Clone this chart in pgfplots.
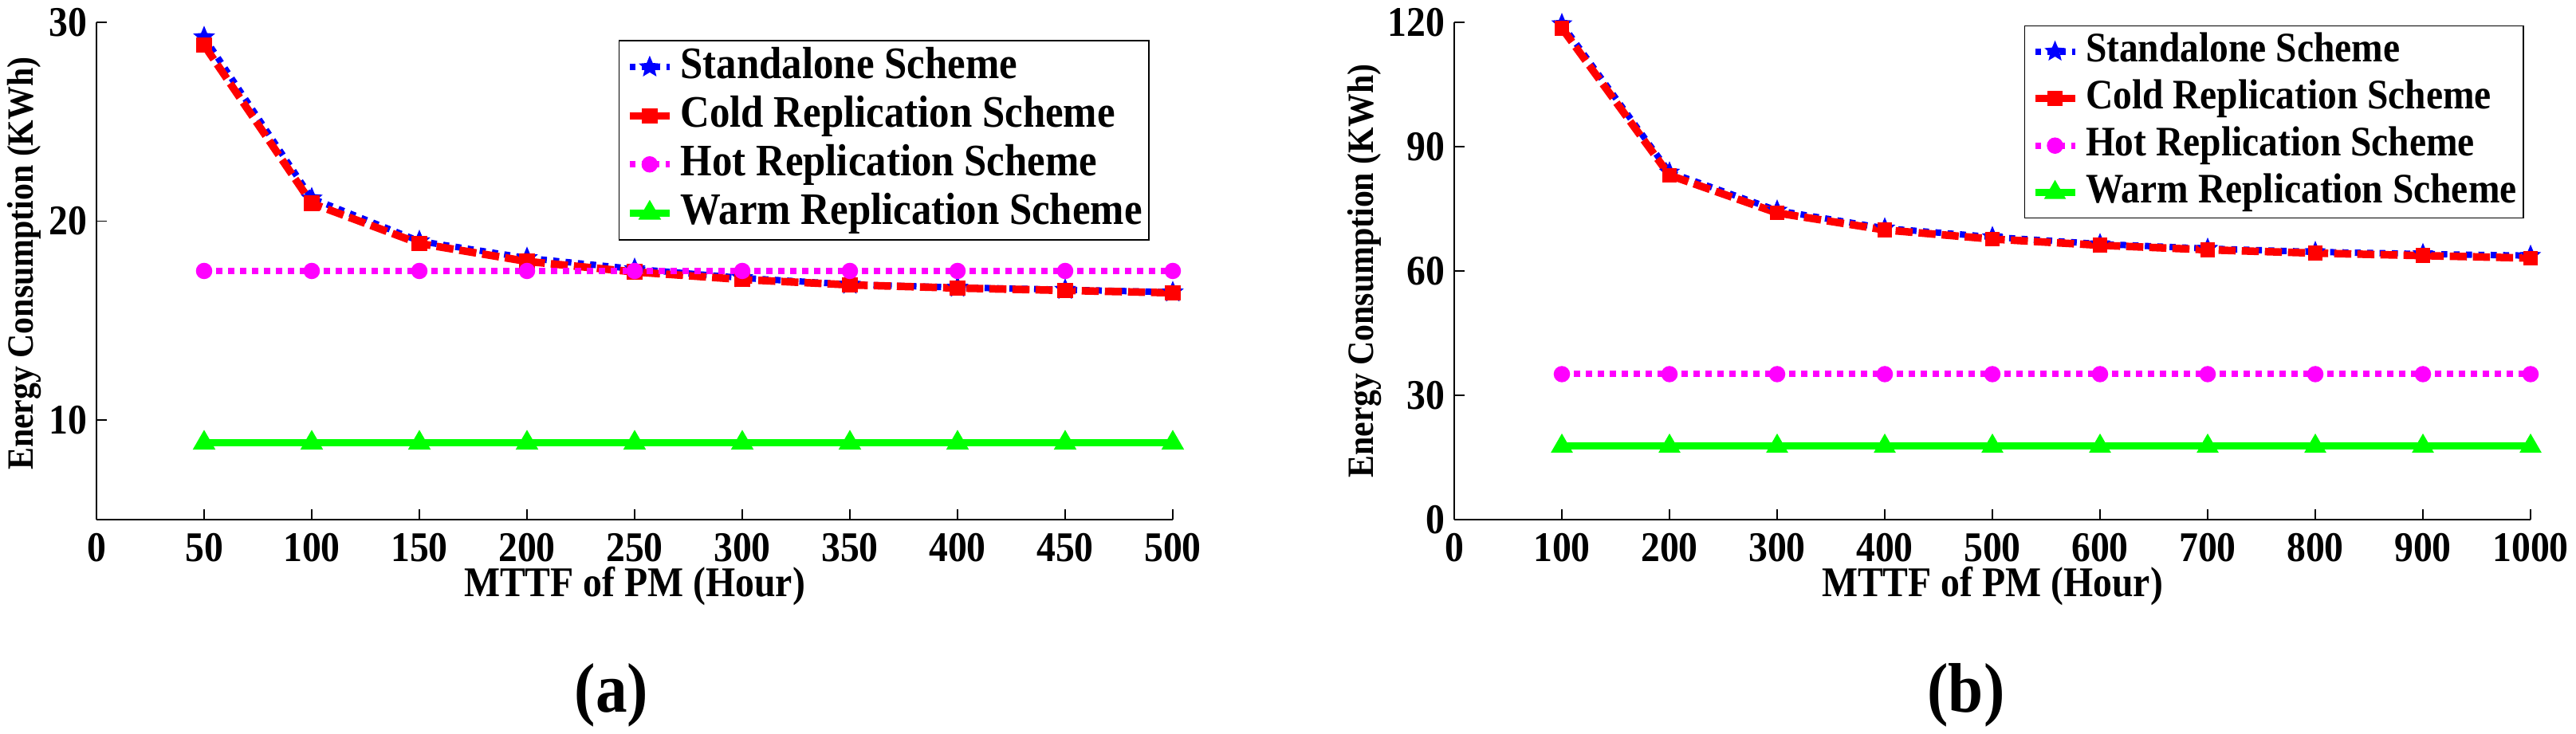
\documentclass[border=0pt]{standalone}
\usepackage{pgfplots}
\pgfplotsset{compat=1.18}
\usepackage{fontspec}
\setmainfont{Liberation Serif}[BoldFont={Liberation Serif Bold}, FakeStretch=0.9]
\newfontfamily\lbf{Liberation Serif Bold}[FakeStretch=0.9]

\definecolor{mblue}{rgb}{0,0,1}
\definecolor{mred}{rgb}{1,0,0}
\definecolor{mmag}{rgb}{1,0,1}
\definecolor{mgreen}{rgb}{0,1,0}

\pgfdeclareplotmark{fstar}{%
  \pgfpathmoveto{\pgfpointpolar{90}{\pgfplotmarksize}}%
  \pgfpathlineto{\pgfpointpolar{126}{0.45\pgfplotmarksize}}%
  \pgfpathlineto{\pgfpointpolar{162}{\pgfplotmarksize}}%
  \pgfpathlineto{\pgfpointpolar{198}{0.45\pgfplotmarksize}}%
  \pgfpathlineto{\pgfpointpolar{234}{\pgfplotmarksize}}%
  \pgfpathlineto{\pgfpointpolar{270}{0.45\pgfplotmarksize}}%
  \pgfpathlineto{\pgfpointpolar{306}{\pgfplotmarksize}}%
  \pgfpathlineto{\pgfpointpolar{342}{0.45\pgfplotmarksize}}%
  \pgfpathlineto{\pgfpointpolar{18}{\pgfplotmarksize}}%
  \pgfpathlineto{\pgfpointpolar{54}{0.45\pgfplotmarksize}}%
  \pgfpathclose
  \pgfusepathqfillstroke
}

\pgfplotstableread{
x   sa     cold   hot   warm
50  29.25  28.85  17.5  8.85
100 21.15  20.90  17.5  8.85
150 19.00  18.88  17.5  8.85
200 18.15  17.98  17.5  8.85
250 17.60  17.45  17.5  8.85
300 17.15  17.07  17.5  8.85
350 16.82  16.80  17.5  8.85
400 16.67  16.64  17.5  8.85
450 16.56  16.52  17.5  8.85
500 16.43  16.40  17.5  8.85
}\dataA

\pgfplotstableread{
x    sa     cold   hot   warm
100  119.6  118.6  35.1  17.7
200  83.8   83.1   35.1  17.7
300  74.6   74.0   35.1  17.7
400  70.3   69.9   35.1  17.7
500  68.2   67.7   35.1  17.7
600  66.5   66.2   35.1  17.7
700  65.4   65.1   35.1  17.7
800  64.6   64.3   35.1  17.7
900  64.1   63.7   35.1  17.7
1000 63.7   63.1   35.1  17.7
}\dataB

\pgfplotsset{
  mycommon/.style={
    scale only axis, width=270pt, height=124.8pt,
    axis x line=bottom, axis y line=left,
    axis line style={-, line width=0.3pt, black},
    tick align=inside, major tick length=2.6pt,
    tick style={line width=0.3pt, black},
    /pgf/number format/assume math mode=true,
    /pgf/number format/1000 sep={},
    ticklabel style={font=\fontsize{10.6}{12}\selectfont\lbf},
    xticklabel style={inner sep=0pt, anchor=north, yshift=-3.2pt},
    yticklabel style={inner sep=0pt, anchor=east, xshift=-2.2pt},
    xlabel style={font=\fontsize{10.6}{12}\selectfont\lbf,
      at={(axis description cs:0.5,-0.155)}, anchor=base},
    ylabel style={font=\fontsize{9.3}{11}\selectfont\lbf, anchor=center},
    clip=false,
    legend cell align=left,
    legend image code/.code={\draw[mark repeat=2,mark phase=2,##1] plot coordinates {(0pt,0pt) (5pt,0pt) (10pt,0pt)};},
    xlabel={MTTF of PM (Hour)},
    ylabel={Energy Consumption (KWh)},
  },
  sa/.style={color=mblue, line width=1.6pt, dash pattern=on 1.5pt off 1.6pt,
    mark=fstar, mark options={solid, line width=0.3pt}},
  cold/.style={color=mred, line width=1.9pt, dash pattern=on 4.3pt off 1.5pt,
    mark=square*, mark options={solid, line width=0.3pt}},
  hot/.style={color=mmag, line width=1.6pt, dash pattern=on 1.5pt off 1.5pt,
    mark=*, mark options={solid, line width=0.3pt}},
  warm/.style={color=mgreen, line width=1.8pt, solid,
    mark=triangle*, mark options={solid, line width=0.3pt}},
}

\begin{document}
\begin{tikzpicture}
\path[use as bounding box] (0,0) rectangle (646.2pt,184.2pt);

\begin{axis}[mycommon,
  at={(24.2pt,53.8pt)}, anchor=south west,
  xmin=0, xmax=500, ymin=5, ymax=30,
  xtick={0,50,...,500}, ytick={10,20,30},
  ylabel style={at={(axis description cs:-0.0667,0.515)}},
  legend style={at={(0.9785,0.9647)}, anchor=north east, draw=black, line width=0.3pt,
    fill=white, inner xsep=1.7pt, inner ysep=1.45pt, row sep=1.7pt, column sep=1.8pt,
    font=\fontsize{11.3}{13}\selectfont\lbf,
    nodes={inner sep=0pt, text height=8pt, text depth=2.5pt}},
]
\addplot[sa, mark size=2.5pt] table[x=x,y=sa] {\dataA};
\addlegendentry{Standalone Scheme}
\addplot[cold, mark size=1.8pt] table[x=x,y=cold] {\dataA};
\addlegendentry{Cold Replication Scheme}
\addplot[hot, mark size=1.9pt] table[x=x,y=hot] {\dataA};
\addlegendentry{Hot Replication Scheme}
\addplot[warm, mark size=3.0pt] table[x=x,y=warm] {\dataA};
\addlegendentry{Warm Replication Scheme}
\end{axis}

\begin{axis}[mycommon,
  at={(364.8pt,53.8pt)}, anchor=south west,
  xmin=0, xmax=1000, ymin=0, ymax=120,
  xtick={0,100,...,1000}, ytick={0,30,...,120},
  ylabel style={at={(axis description cs:-0.0837,0.5)}},
  legend style={at={(0.994,0.9936)}, anchor=north east, draw=black, line width=0.3pt,
    fill=white, inner xsep=1.7pt, inner ysep=1.5pt, row sep=2pt, column sep=1.75pt,
    font=\fontsize{10.55}{12}\selectfont\lbf,
    nodes={inner sep=0pt, text height=7.5pt, text depth=2.3pt}},
]
\addplot[sa, mark size=2.4pt] table[x=x,y=sa] {\dataB};
\addlegendentry{Standalone Scheme}
\addplot[cold, mark size=1.7pt] table[x=x,y=cold] {\dataB};
\addlegendentry{Cold Replication Scheme}
\addplot[hot, mark size=1.9pt] table[x=x,y=hot] {\dataB};
\addlegendentry{Hot Replication Scheme}
\addplot[warm, mark size=2.9pt] table[x=x,y=warm] {\dataB};
\addlegendentry{Warm Replication Scheme}
\end{axis}

\node[anchor=base, font=\fontsize{17.6}{20}\selectfont\lbf] at (153.4pt,5.4pt) {(a)};
\node[anchor=base, font=\fontsize{17.6}{20}\selectfont\lbf] at (493.2pt,5.4pt) {(b)};
\end{tikzpicture}
\end{document}
